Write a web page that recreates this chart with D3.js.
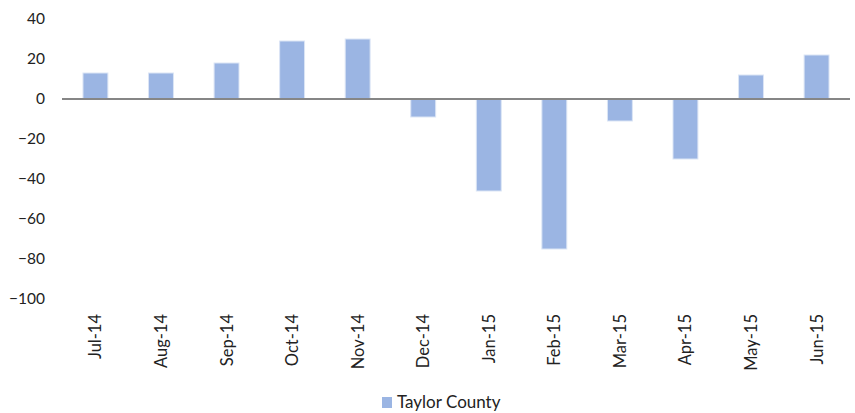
<!DOCTYPE html>
<html>
<head>
<meta charset="utf-8">
<script src="https://cdn.jsdelivr.net/npm/d3@7"></script>
<style>
	body { margin: 0; background: #fff; }
	svg { display: block; font-family: Lato, "Open Sans", sans-serif; }
</style>
</head>
<body>
<svg id="chart" width="855" height="413"></svg>
<script>
// monthly change, Taylor County
const months = ['Jul-14', 'Aug-14', 'Sep-14', 'Oct-14', 'Nov-14', 'Dec-14',
	'Jan-15', 'Feb-15', 'Mar-15', 'Apr-15', 'May-15', 'Jun-15']
const taylor = [13, 13, 18, 29, 30, -9, -46, -75, -11, -30, 12, 22]
const yTicks = [40, 20, 0, -20, -40, -60, -80, -100]
const seriesName = 'Taylor County'

const svg = d3.select('#chart')

const x = d3.scaleBand()
	.domain(months)
	.range([62, 850])
	.paddingInner(0.62)
	.paddingOuter(0.32)

const y = d3.scaleLinear()
	.domain([-100, 40])
	.range([299, 19])

// y labels, no axis line
svg.append('g')
	.attr('transform', 'translate(45,0)')
	.call(d3.axisLeft(y).tickValues(yTicks).tickSize(0).tickPadding(0))
	.call(g => g.select('.domain').remove())
	.selectAll('text')
	.attr('font-family', 'Lato, "Open Sans", sans-serif')
	.attr('font-size', 15.5)
	.attr('fill', '#222')

svg.append('g')
	.selectAll('rect')
	.data(taylor)
	.join('rect')
	.attr('x', (d, i) => x(months[i]))
	.attr('width', x.bandwidth())
	.attr('y', d => y(Math.max(0, d)))
	.attr('height', d => Math.abs(y(d) - y(0)))
	.attr('fill', '#9bb5e3')
	.attr('stroke', '#dbe5f5')
	.attr('stroke-width', 1)

// zero line doubles as x axis
svg.append('line')
	.attr('x1', 62).attr('x2', 850)
	.attr('y1', y(0)).attr('y2', y(0))
	.attr('stroke', '#868686')
	.attr('stroke-width', 2)

svg.append('g')
	.selectAll('text')
	.data(months)
	.join('text')
	.attr('transform', d => `translate(${x(d) + x.bandwidth() / 2 + 6},314) rotate(-90)`)
	.attr('text-anchor', 'end')
	.attr('font-size', 16.5)
	.attr('fill', '#222')
	.text(d => d)

// legend
const legend = svg.append('g').attr('transform', 'translate(382,397)')
legend.append('rect')
	.attr('width', 10).attr('height', 11)
	.attr('fill', '#9bb5e3')
legend.append('text')
	.attr('x', 15).attr('y', 11)
	.attr('font-size', 17)
	.attr('fill', '#222')
	.text(seriesName)
</script>
</body>
</html>
